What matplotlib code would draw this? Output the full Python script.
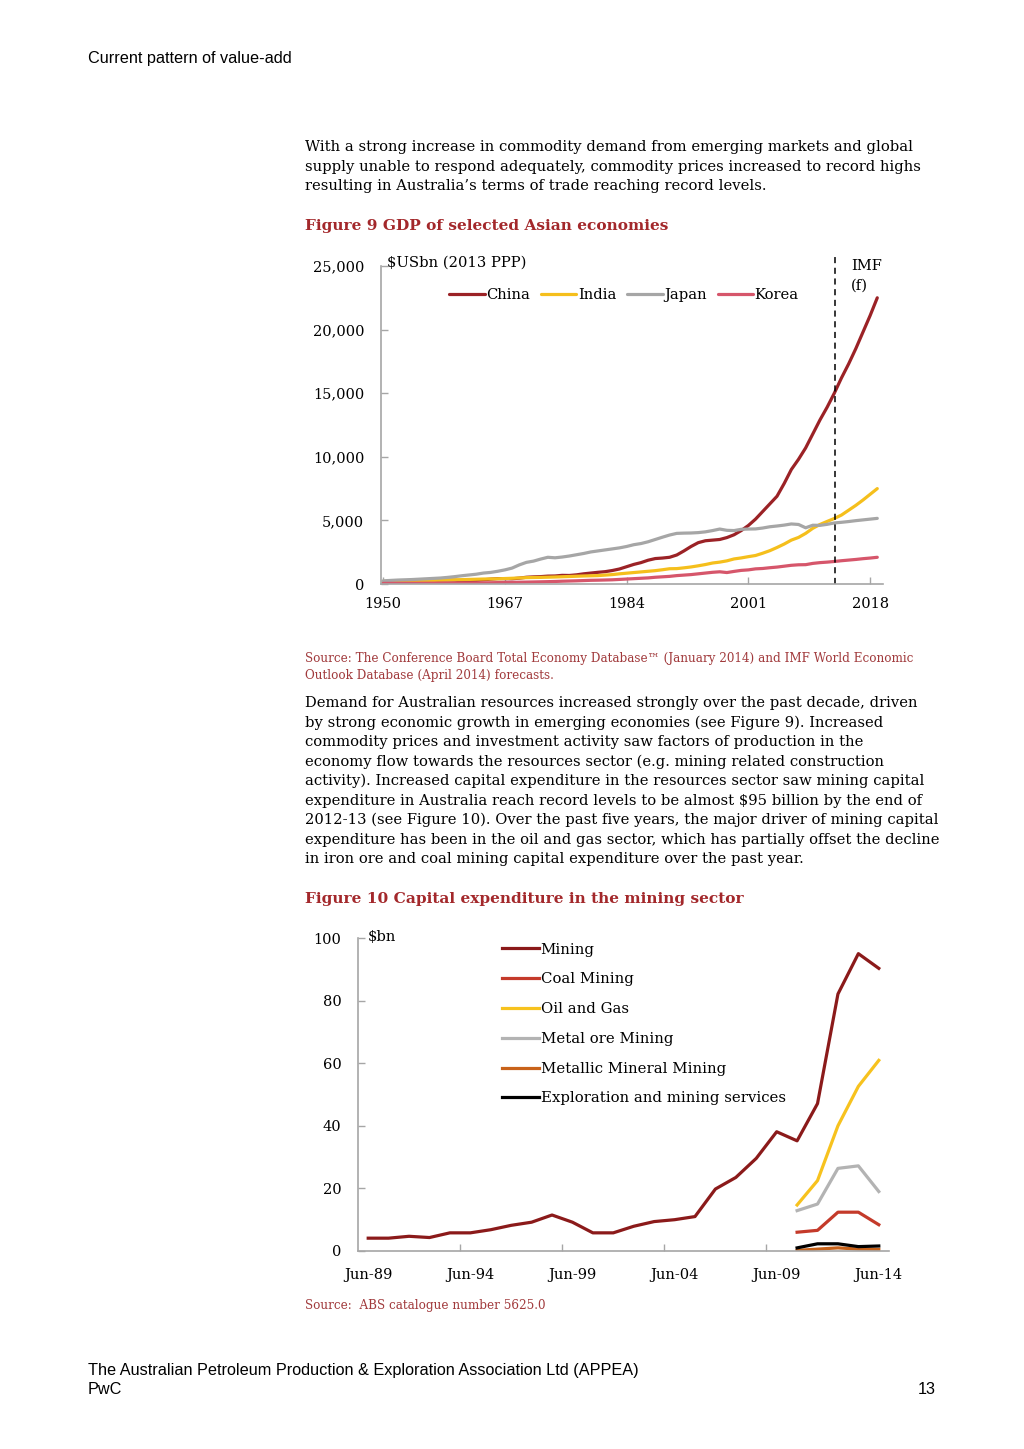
import matplotlib
matplotlib.use("Agg")
import matplotlib.pyplot as plt
import numpy as np

# ---------------- data: Figure 9 ----------------
years = list(range(1950, 2020))
china = [100, 120, 150, 170, 180, 200, 230, 250, 300, 310,
         300, 250, 250, 280, 330, 380, 420, 420, 410, 460,
         530, 560, 580, 620, 630, 680, 670, 720, 800, 860,
         920, 970, 1060, 1180, 1360, 1540, 1680, 1870, 2000, 2040,
         2100, 2280, 2600, 2950, 3250, 3400, 3450, 3500, 3650, 3870,
         4200, 4600, 5100, 5700, 6300, 6900, 7900, 9000, 9800, 10700,
         11800, 12900, 13900, 15000, 16200, 17300, 18500, 19800, 21100, 22500]
india = [200, 210, 220, 230, 240, 250, 265, 280, 300, 315,
         330, 345, 360, 375, 390, 400, 410, 430, 450, 475,
         500, 510, 520, 535, 550, 570, 590, 610, 630, 645,
         660, 700, 740, 800, 850, 900, 950, 1000, 1050, 1120,
         1200, 1210, 1270, 1340, 1430, 1530, 1650, 1720, 1820, 1970,
         2050, 2150, 2240, 2420, 2620, 2870, 3140, 3450, 3660, 3980,
         4380, 4680, 4920, 5150, 5420, 5800, 6180, 6600, 7050, 7500]
japan = [250, 280, 310, 330, 350, 380, 410, 440, 470, 520,
         580, 650, 710, 770, 860, 910, 1000, 1110, 1250, 1500,
         1700, 1800, 1960, 2100, 2060, 2120, 2200, 2300, 2400, 2520,
         2600, 2680, 2760, 2840, 2950, 3090, 3180, 3320, 3500, 3680,
         3850, 3980, 4000, 4010, 4040, 4100, 4200, 4320, 4220, 4200,
         4300, 4320, 4330, 4400, 4500, 4560, 4630, 4720, 4680, 4420,
         4620, 4610, 4690, 4800, 4850, 4910, 4980, 5040, 5100, 5160]
korea = [50, 50, 52, 55, 57, 60, 62, 65, 68, 72,
         75, 78, 82, 88, 94, 100, 110, 120, 130, 140,
         150, 160, 172, 185, 200, 220, 235, 250, 270, 290,
         300, 315, 330, 360, 390, 420, 450, 480, 530, 565,
         600, 660, 700, 740, 800, 860, 920, 960, 900, 990,
         1070, 1110, 1190, 1220, 1280, 1330, 1400, 1470, 1510, 1520,
         1620, 1680, 1720, 1770, 1830, 1880, 1930, 1990, 2040, 2100]
gdp_series = ["China", "India", "Japan", "Korea"]
gdp_xticks = [1950, 1967, 1984, 2001, 2018]
gdp_yticks = [0, 5000, 10000, 15000, 20000, 25000]
forecast_start = 2013.1

# ---------------- data: Figure 10 ----------------
capex_labels = ["Jun-89", "Jun-94", "Jun-99", "Jun-04", "Jun-09", "Jun-14"]
capex_years = list(range(1989, 2015))
mining = [4.1, 4.1, 4.7, 4.3, 5.8, 5.8, 6.8, 8.2, 9.2, 11.5,
          9.2, 5.8, 5.8, 7.9, 9.4, 10.0, 11.0, 19.8, 23.5, 29.6,
          38.1, 35.2, 47.1, 82.1, 95.0, 90.3]
sub_years = [2010, 2011, 2012, 2013, 2014]
coal = [6.0, 6.6, 12.4, 12.4, 8.4]
oil_gas = [14.7, 22.5, 40.0, 52.6, 60.9]
metal_ore = [12.9, 15.0, 26.4, 27.2, 19.0]
metallic_mineral = [0.2, 0.6, 1.0, 0.6, 0.5]
exploration = [1.0, 2.3, 2.3, 1.4, 1.6]
capex_yticks = [0, 20, 40, 60, 80, 100]

# ---------------- styling ----------------
SERIF = ["DejaVu Serif"]
SANS = ["Liberation Sans", "DejaVu Sans"]
RED = "#a3282b"
SRC = "#a13a3c"
AXC = "#a6a6a6"
FS = 10.6
HS = 11.7

plt.rcParams["font.family"] = SERIF
fig = plt.figure(figsize=(10.24, 14.49), dpi=100)
W, H = 1024, 1449


def ftext(x, y, s, **kw):
    fig.text(x / W, 1 - y / H, s, va="center", ha=kw.pop("ha", "left"), **kw)


# header / footer
ftext(88, 58, "Current pattern of value-add", family=SANS, fontsize=HS)
ftext(88, 1371, "The Australian Petroleum Production & Exploration Association Ltd (APPEA)",
      family=SANS, fontsize=HS)
ftext(88, 1390, "PwC", family=SANS, fontsize=HS)
ftext(936, 1390, "13", family=SANS, fontsize=HS, ha="right")

para1 = ["With a strong increase in commodity demand from emerging markets and global",
         "supply unable to respond adequately, commodity prices increased to record highs",
         "resulting in Australia\u2019s terms of trade reaching record levels."]
for i, s in enumerate(para1):
    ftext(305, 147 + i * 19.5, s, fontsize=FS)

ftext(305, 226, "Figure 9 GDP of selected Asian economies", fontsize=11.1, color=RED,
      fontweight="bold")

ftext(305, 659, "Source: The Conference Board Total Economy Database\u2122 (January 2014) and IMF World Economic",
      fontsize=8.65, color=SRC)
ftext(305, 675, "Outlook Database (April 2014) forecasts.", fontsize=8.65, color=SRC)

para2 = ["Demand for Australian resources increased strongly over the past decade, driven",
         "by strong economic growth in emerging economies (see Figure 9). Increased",
         "commodity prices and investment activity saw factors of production in the",
         "economy flow towards the resources sector (e.g. mining related construction",
         "activity). Increased capital expenditure in the resources sector saw mining capital",
         "expenditure in Australia reach record levels to be almost $95 billion by the end of",
         "2012-13 (see Figure 10). Over the past five years, the major driver of mining capital",
         "expenditure has been in the oil and gas sector, which has partially offset the decline",
         "in iron ore and coal mining capital expenditure over the past year."]
for i, s in enumerate(para2):
    ftext(305, 703 + i * 19.5, s, fontsize=FS)

ftext(305, 899, "Figure 10 Capital expenditure in the mining sector", fontsize=11.1, color=RED,
      fontweight="bold")
ftext(305, 1306, "Source:  ABS catalogue number 5625.0", fontsize=8.65, color=SRC)


def style_axes(ax):
    for s in ["top", "right"]:
        ax.spines[s].set_visible(False)
    for s in ["left", "bottom"]:
        ax.spines[s].set_color(AXC)
        ax.spines[s].set_linewidth(1.2)
    ax.tick_params(which="both", direction="in", color=AXC, width=1.0, length=5,
                   labelsize=10.5)


# ---------------- Figure 9 axes ----------------
ax1 = fig.add_axes([381 / W, 1 - 584 / H, (883 - 381) / W, (584 - 266) / H])
style_axes(ax1)
cols1 = ["#9b2226", "#f5bf1c", "#a6a6a6", "#d6566b"]
for name, vals, c in zip(gdp_series, [china, india, japan, korea], cols1):
    ax1.plot(years, vals, color=c, lw=2.3, label=name, solid_capstyle="round")
ax1.set_xlim(1949.7, 2019.8)
ax1.set_ylim(0, 25000)
ax1.set_xticks(gdp_xticks)
ax1.set_yticks(gdp_yticks)
ax1.set_yticklabels([f"{v:,}" for v in gdp_yticks])
ax1.tick_params(axis="y", pad=12)
ax1.tick_params(axis="x", pad=9)
ax1.axvline(forecast_start, ymin=0, ymax=1.035, color="black", lw=1.1,
            ls=(0, (4, 3)), clip_on=False)
ax1.text(0.012, 1.01, "$USbn (2013 PPP)", transform=ax1.transAxes, fontsize=FS,
         va="center", ha="left")
ax1.text(0.937, 1.0, "IMF", transform=ax1.transAxes, fontsize=FS,
         va="center", ha="left")
ax1.text(0.937, 0.937, "(f)", transform=ax1.transAxes, fontsize=FS,
         va="center", ha="left")
ax1.legend(ncol=4, loc="center", bbox_to_anchor=(0.484, 0.908), frameon=False,
           fontsize=FS, handlelength=2.4, handletextpad=0.1, columnspacing=0.75,
           borderpad=0, borderaxespad=0)

# ---------------- Figure 10 axes ----------------
ax2 = fig.add_axes([358 / W, 1 - 1251 / H, (889 - 358) / W, (1251 - 938) / H])
style_axes(ax2)
idx = np.arange(len(capex_years))
sub_idx = [capex_years.index(y) for y in sub_years]
series2 = [("Mining", idx, mining, "#8b1a1a"),
           ("Coal Mining", sub_idx, coal, "#c43a2a"),
           ("Oil and Gas", sub_idx, oil_gas, "#f7c21e"),
           ("Metal ore Mining", sub_idx, metal_ore, "#b3b3b3"),
           ("Metallic Mineral Mining", sub_idx, metallic_mineral, "#c8621a"),
           ("Exploration and mining services", sub_idx, exploration, "#000000")]
for name, xx, vals, c in series2:
    ax2.plot(xx, vals, color=c, lw=2.3, label=name)
ax2.set_xlim(-0.5, 25.5)
ax2.set_ylim(0, 100)
ax2.set_xticks([4.5, 9.5, 14.5, 19.5])
ax2.set_xticklabels([])
ax2.set_xticks([capex_years.index(1989 + 5 * i) for i in range(6)], minor=True)
ax2.set_xticklabels(capex_labels, minor=True)
ax2.tick_params(axis="x", which="minor", length=0, pad=12)
ax2.set_yticks(capex_yticks)
ax2.tick_params(axis="y", pad=12)
ax2.text(0.018, 1.003, "$bn", transform=ax2.transAxes, fontsize=FS, va="center", ha="left")
ax2.legend(ncol=1, loc="upper left", bbox_to_anchor=(0.271, 0.985), frameon=False,
           fontsize=10.7, handlelength=2.5, handletextpad=0.1, labelspacing=1.06,
           borderpad=0, borderaxespad=0)

fig.savefig("out.png", dpi=100)
